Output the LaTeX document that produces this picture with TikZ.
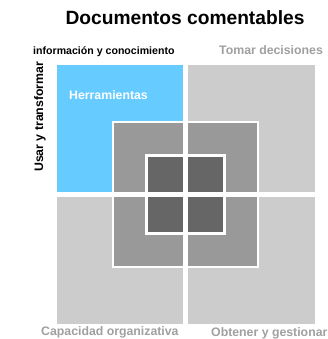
\documentclass[tikz,border=0pt]{standalone}
\usepackage{fontspec}
\setmainfont{Liberation Sans}
\definecolor{qblue}{RGB}{102,204,255}
\definecolor{qlight}{RGB}{204,204,204}
\definecolor{qmid}{RGB}{153,153,153}
\definecolor{qdark}{RGB}{102,102,102}
\definecolor{qlabel}{RGB}{160,160,160}
\begin{document}
\begin{tikzpicture}[x=1pt,y=-1pt,
  lbl/.style={inner sep=0pt,anchor=base west,font=\bfseries\fontsize{12.3}{14}\selectfont},
  graylbl/.style={lbl,text=qlabel}]
\useasboundingbox[fill=white] (0,0) rectangle (327,339);
\def\cx{185.5}\def\cy{194.5}\def\g{2.75}
% large quadrants
\fill[qblue]  (\cx-129,\cy-129) rectangle (\cx-\g,\cy-\g);
\fill[qlight] (\cx+\g,\cy-129) rectangle (\cx+129,\cy-\g);
\fill[qlight] (\cx-129,\cy+\g) rectangle (\cx-\g,\cy+129);
\fill[qlight] (\cx+\g,\cy+\g) rectangle (\cx+129,\cy+129);
% medium level
\fill[white] (\cx-73.5,\cy-73.5) rectangle (\cx+73.5,\cy+73.5);
\fill[qmid] (\cx-71.5,\cy-71.5) rectangle (\cx-\g,\cy-\g);
\fill[qmid] (\cx+\g,\cy-71.5) rectangle (\cx+71.5,\cy-\g);
\fill[qmid] (\cx-71.5,\cy+\g) rectangle (\cx-\g,\cy+71.5);
\fill[qmid] (\cx+\g,\cy+\g) rectangle (\cx+71.5,\cy+71.5);
% dark level
\fill[white] (\cx-40.5,\cy-40.5) rectangle (\cx+40.5,\cy+40.5);
\fill[qdark] (\cx-37.5,\cy-37.5) rectangle (\cx-\g,\cy-\g);
\fill[qdark] (\cx+\g,\cy-37.5) rectangle (\cx+37.5,\cy-\g);
\fill[qdark] (\cx-37.5,\cy+\g) rectangle (\cx-\g,\cy+37.5);
\fill[qdark] (\cx+\g,\cy+\g) rectangle (\cx+37.5,\cy+37.5);
% texts
\node[inner sep=0pt,anchor=base,font=\bfseries\fontsize{19.2}{22}\selectfont] (title) at (185,25) {Documentos comentables};
\node[lbl,font=\bfseries\fontsize{10.6}{12}\selectfont] (info) at (33,54.5) {información y conocimiento};
\node[graylbl] (tomar) at (219,54.5) {Tomar decisiones};
\node[lbl,text=white] (herr) at (69,100) {Herramientas};
\node[lbl,rotate=90] (usar) at (43,172) {Usar y transformar};
\node[graylbl] (capa) at (41,335.5) {Capacidad organizativa};
\node[graylbl] (obt) at (211,336) {Obtener y gestionar};
\end{tikzpicture}
\end{document}
